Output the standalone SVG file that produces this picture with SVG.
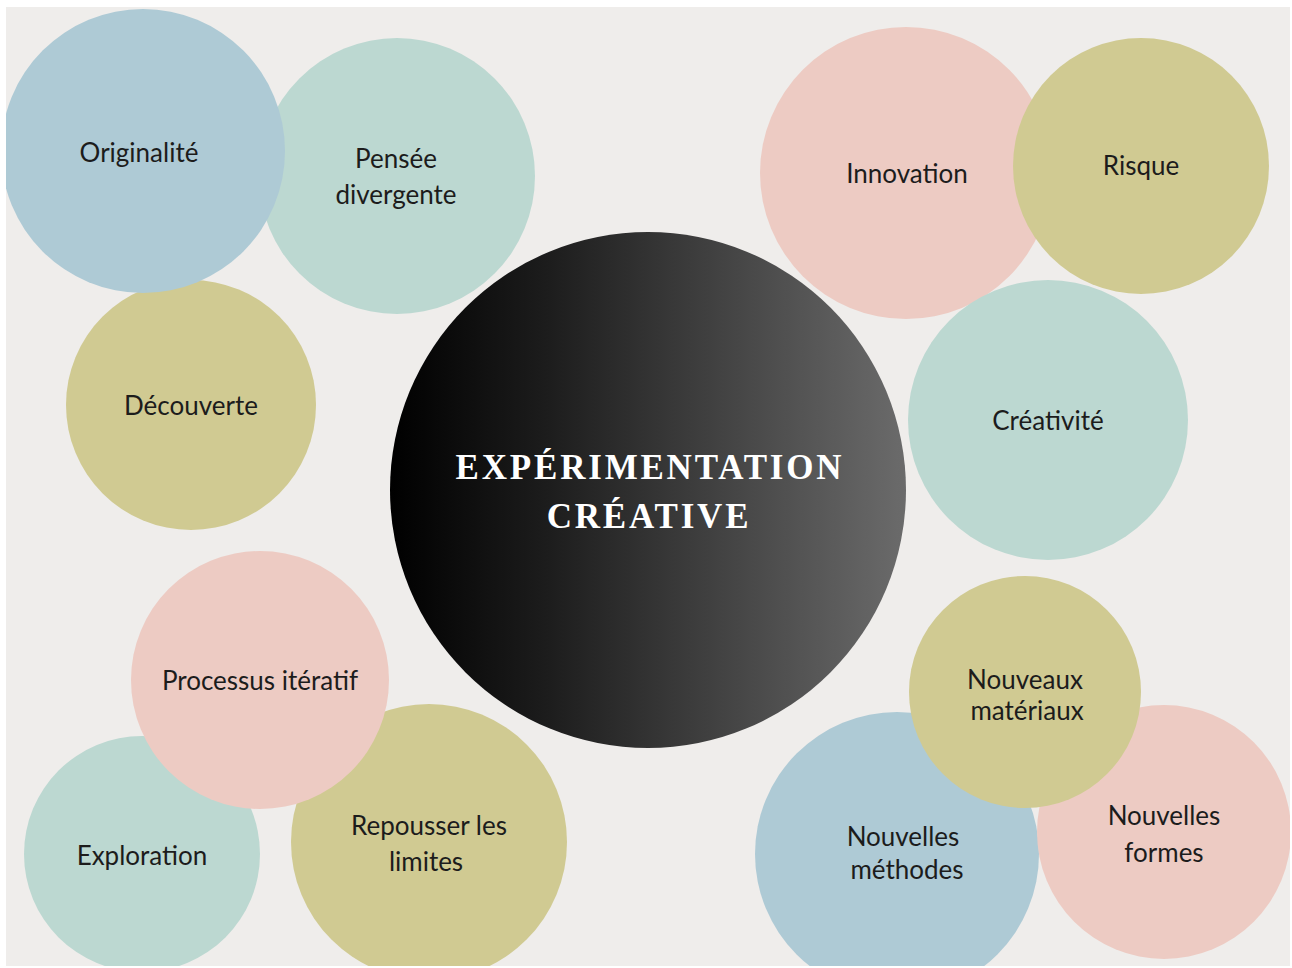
<svg xmlns="http://www.w3.org/2000/svg" width="1292" height="968" viewBox="0 0 1292 968">
<defs>
<linearGradient id="g" x1="0" y1="0" x2="1" y2="0">
<stop offset="0" stop-color="#000000"/>
<stop offset="0.3" stop-color="#1c1c1c"/>
<stop offset="1" stop-color="#6b6b6b"/>
</linearGradient>
<clipPath id="area"><rect x="6" y="7" width="1284" height="959"/></clipPath>
<style>
.blue{fill:#aecad5}
.teal{fill:#bcd8d1}
.olive{fill:#d0ca92}
.pink{fill:#edcbc3}
.lbl{font-family:Lato,"Liberation Sans",sans-serif;font-size:26px;fill:#1c1c1c;text-anchor:middle}
.ctr{font-family:"Liberation Serif",serif;font-weight:bold;font-size:35px;fill:#ffffff;text-anchor:middle;letter-spacing:2.8px}
</style>
</defs>
<rect width="1292" height="968" fill="#ffffff"/>
<rect x="6" y="7" width="1284" height="959" fill="#efedeb"/>
<g clip-path="url(#area)">
<g id="decouverte"><circle class="olive" cx="191" cy="405" r="125"/><text class="lbl" x="191" y="415">Découverte</text></g>
<g id="pensee"><circle class="teal" cx="397" cy="176" r="138"/><text class="lbl" x="396" y="168">Pensée</text><text class="lbl" x="396" y="204">divergente</text></g>
<g id="originalite"><circle class="blue" cx="143" cy="151" r="142"/><text class="lbl" x="139" y="162">Originalité</text></g>
<g id="innovation"><circle class="pink" cx="906" cy="173" r="146"/><text class="lbl" x="907" y="183">Innovation</text></g>
<g id="risque"><circle class="olive" cx="1141" cy="166" r="128"/><text class="lbl" x="1141" y="175">Risque</text></g>
<g id="creativite"><circle class="teal" cx="1048" cy="420" r="140"/><text class="lbl" x="1048" y="430">Créativité</text></g>
<g id="centre"><circle cx="648" cy="490" r="258" fill="url(#g)"/><text class="ctr" x="650" y="479">EXPÉRIMENTATION</text><text class="ctr" x="649" y="528">CRÉATIVE</text></g>
<g id="exploration"><circle class="teal" cx="142" cy="854" r="118"/><text class="lbl" x="142" y="865">Exploration</text></g>
<g id="repousser"><circle class="olive" cx="429" cy="842" r="138"/><text class="lbl" x="429" y="835">Repousser les</text><text class="lbl" x="426" y="871">limites</text></g>
<g id="processus"><circle class="pink" cx="260" cy="680" r="129"/><text class="lbl" x="260" y="690">Processus itératif</text></g>
<g id="methodes"><circle class="blue" cx="897" cy="854" r="142"/><text class="lbl" x="903" y="846">Nouvelles</text><text class="lbl" x="907" y="879">méthodes</text></g>
<g id="formes"><circle class="pink" cx="1164" cy="832" r="127"/><text class="lbl" x="1164" y="825">Nouvelles</text><text class="lbl" x="1164" y="862">formes</text></g>
<g id="materiaux"><circle class="olive" cx="1025" cy="692" r="116"/><text class="lbl" x="1025" y="689">Nouveaux</text><text class="lbl" x="1027" y="720">matériaux</text></g>
</g>
<g id="connectors"/>
</svg>
